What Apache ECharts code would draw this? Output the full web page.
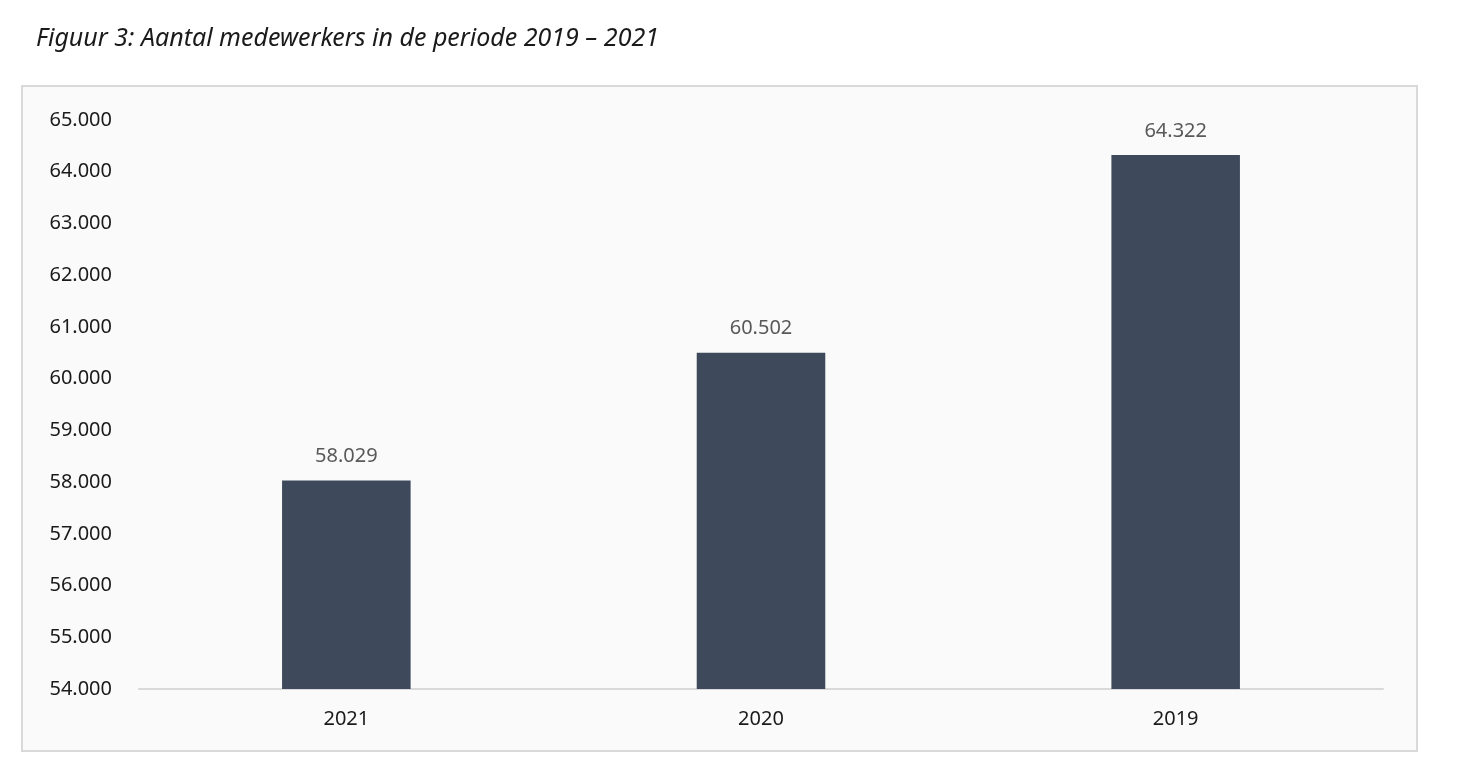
<!DOCTYPE html>
<html><head><meta charset="utf-8">
<script src="https://cdn.jsdelivr.net/npm/echarts@6/dist/echarts.min.js"></script>
<style>html,body{margin:0;padding:0;background:#fff}#c{width:1460px;height:764px}</style>
</head><body><div id="c"></div>
<script>
const categories = ['2021', '2020', '2019'];
const values = [58029, 60502, 64322];
const titleText = 'Figuur 3: Aantal medewerkers in de periode 2019 \u2013 2021';
const fmt = v => String(v).replace(/\B(?=(\d{3})+(?!\d))/g, '.');
const chart = echarts.init(document.getElementById('c'));
chart.setOption({
  backgroundColor: '#ffffff',
  animation: false,
  title: { text: titleText, left: 31, top: 21,
    textStyle: { fontFamily: 'Noto Sans', fontStyle: 'italic', fontWeight: 'normal', fontSize: 25, color: '#1a1a1a' } },
  graphic: [{ type: 'rect', z: -10, shape: { x: 22, y: 86, width: 1395, height: 665 },
    style: { fill: '#fafafa', stroke: '#d9d9d9', lineWidth: 2 } }],
  grid: { left: 139, right: 77, top: 120, bottom: 75 },
  xAxis: { type: 'category', data: categories,
    axisLine: { lineStyle: { color: '#d9d9d9', width: 2 } }, axisTick: { show: false },
    axisLabel: { fontFamily: 'Noto Sans', fontSize: 20, color: '#1a1a1a', margin: 20 } },
  yAxis: { type: 'value', min: 54000, max: 65000, interval: 1000,
    splitLine: { show: false }, axisLine: { show: false }, axisTick: { show: false },
    axisLabel: { fontFamily: 'Noto Sans', fontSize: 20, color: '#1a1a1a', margin: 27, formatter: fmt } },
  series: [{ type: 'bar', data: values, barWidth: '31%',
    itemStyle: { color: '#3e4a5b' },
    label: { show: true, position: 'top', distance: 14, formatter: p => fmt(p.value),
      fontFamily: 'Noto Sans', fontSize: 20, color: '#595959' } }]
});
</script></body></html>
